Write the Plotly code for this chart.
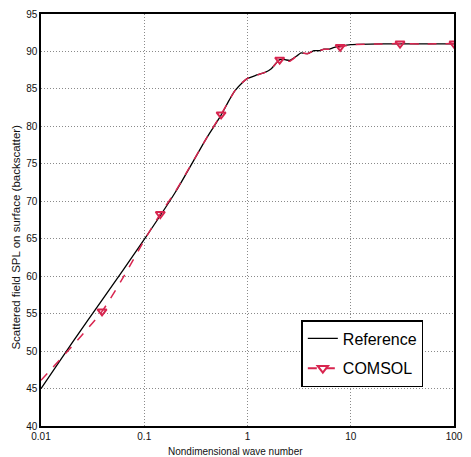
import plotly.graph_objects as go

# Reference curve
x_ref = [0.01, 0.02, 0.039, 0.1, 0.2, 0.4, 0.555, 0.665, 0.75, 0.9, 1.0, 1.2, 1.48, 1.7,
         2.05, 2.3, 2.56, 3.0, 3.3, 3.8, 4.4, 5.0, 5.5, 6.2, 6.8, 8.0, 10.0, 20.0, 50.0, 100.0]
y_ref = [45.0, 51.1, 56.8, 64.9, 71.2, 78.4, 81.5, 83.5, 84.7, 85.9, 86.4, 86.8, 87.2, 87.7,
         88.9, 88.9, 88.8, 89.4, 89.8, 89.7, 90.1, 90.1, 90.3, 90.3, 90.5, 90.7, 90.9, 91.0, 91.0, 91.0]

# COMSOL curve
x_com = [0.01, 0.039, 0.07, 0.1, 0.143, 0.2, 0.4, 0.555, 0.665, 0.75, 0.9, 1.0, 1.2, 1.48, 1.7,
         2.05, 2.3, 2.56, 3.0, 3.3, 3.8, 4.4, 5.0, 5.5, 6.2, 6.8, 7.9, 10.0, 20.0, 30.0, 50.0, 100.0]
y_com = [46.1, 55.3, 61.0, 64.8, 68.3, 71.3, 78.4, 81.6, 83.5, 84.7, 85.9, 86.4, 86.8, 87.2, 87.7,
         88.9, 88.8, 88.7, 89.4, 89.8, 89.7, 90.1, 90.1, 90.3, 90.3, 90.5, 90.6, 90.9, 91.0, 91.05, 91.0, 91.05]
# COMSOL marker points
x_mk = [0.039, 0.143, 0.555, 2.05, 7.9, 30.0, 100.0]
y_mk = [55.3, 68.3, 81.6, 88.9, 90.6, 91.05, 91.05]

x_ticks = [0.01, 0.1, 1, 10, 100]
x_ticklabels = ["0.01", "0.1", "1", "10", "100"]
y_ticks = [40, 45, 50, 55, 60, 65, 70, 75, 80, 85, 90, 95]

RED = "#d8254f"
FONT = "Liberation Sans"

fig = go.Figure()
fig.add_trace(go.Scatter(x=x_ref, y=y_ref, mode="lines", name="Reference",
                         line=dict(color="black", width=1.3, shape="spline", smoothing=0.6),
                         showlegend=False))
fig.add_trace(go.Scatter(x=x_com, y=y_com, mode="lines", name="COMSOL",
                         line=dict(color=RED, width=1.5, dash="dash", shape="spline", smoothing=0.6),
                         showlegend=False))
fig.add_trace(go.Scatter(x=x_mk, y=y_mk, mode="markers", name="COMSOL",
                         marker=dict(symbol="triangle-down-open", size=8, color=RED,
                                     line=dict(width=2, color=RED)),
                         showlegend=False))
# legend entries
fig.add_trace(go.Scatter(x=[None], y=[None], mode="lines", name="Reference",
                         line=dict(color="black", width=1.3), legendgroup="a"))
fig.add_trace(go.Scatter(x=[None], y=[None], mode="lines+markers", name="COMSOL",
                         line=dict(color=RED, width=2, dash="dash"),
                         marker=dict(symbol="triangle-down-open", size=9, color=RED,
                                     line=dict(width=2, color=RED)),
                         legendgroup="b"))

axis_common = dict(showline=True, linecolor="black", linewidth=1.5, mirror=True,
                   showgrid=True, gridcolor="#8a8a8a", gridwidth=1, griddash="1px,2px",
                   zeroline=False, ticks="", tickfont=dict(family=FONT, size=10, color="#111"))

fig.update_xaxes(type="log", range=[-2, 2], tickvals=x_ticks, ticktext=x_ticklabels, **axis_common)
fig.update_yaxes(range=[40, 95], tickvals=y_ticks, **axis_common)

fig.add_annotation(text="Nondimensional wave number", xref="paper", yref="paper",
                   x=(240 - 41) / 422, y=(426 - 451) / 412, xanchor="center", yanchor="middle",
                   showarrow=False, font=dict(family=FONT, size=10, color="#111"))
fig.add_annotation(text="Scattered field SPL on surface (backscatter)", xref="paper", yref="paper",
                   x=(15 - 41) / 422, y=(426 - 237) / 412, xanchor="center", yanchor="middle",
                   showarrow=False, textangle=-90,
                   font=dict(family=FONT, size=11.5, color="#111"))

fig.update_layout(
    width=471, height=457,
    margin=dict(l=41, r=8, t=14, b=31),
    plot_bgcolor="white", paper_bgcolor="white",
    legend=dict(x=(307 - 41) / 422, y=(426 - 320) / 412, xanchor="left", yanchor="top",
                bgcolor="white", bordercolor="black", borderwidth=1.5,
                font=dict(family=FONT, size=16, color="black"),
                traceorder="grouped", tracegroupgap=6),
)

fig.write_html("out.html")
